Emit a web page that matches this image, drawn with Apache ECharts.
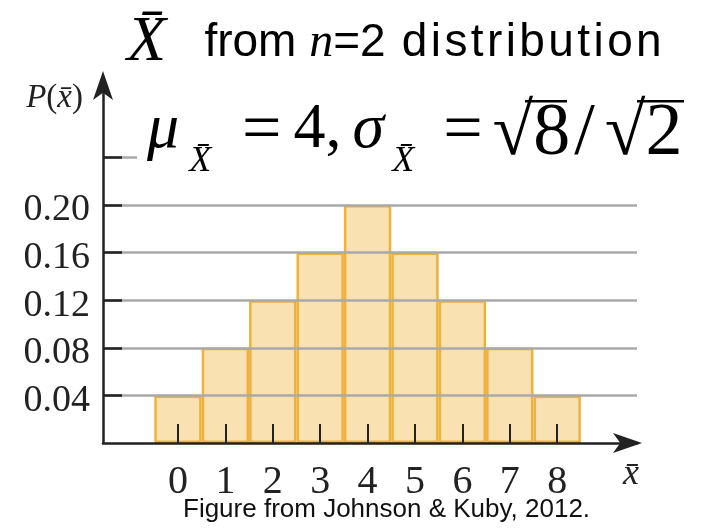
<!DOCTYPE html>
<html>
<head>
<meta charset="utf-8">
<script src="https://cdn.jsdelivr.net/npm/echarts@6/dist/echarts.min.js"></script>
<style>
  html, body { margin: 0; padding: 0; background: #fff; }
  #chart { width: 707px; height: 528px; }
</style>
</head>
<body>
<div id="chart"></div>
<script>
// Sampling distribution of the mean of two draws
const xbarValues = [0, 1, 2, 3, 4, 5, 6, 7, 8];
const probabilities = [0.04, 0.08, 0.12, 0.16, 0.20, 0.16, 0.12, 0.08, 0.04];
const yTickValues = [0.04, 0.08, 0.12, 0.16, 0.20, 0.24];
const yLabelValues = [0.04, 0.08, 0.12, 0.16, 0.20];
const gridValues = [0.04, 0.08, 0.12, 0.16, 0.20, 0.24];

const serif = "'Liberation Serif', 'Times New Roman', serif";
const sans = "'Liberation Sans', Arial, sans-serif";
const MACRON = '\u0304';

// loosely tracked word: one rich token per letter
function tracked(word, style) {
  return word.split('').map(ch => '{' + style + '|' + ch + '}').join('');
}

const chart = echarts.init(document.getElementById('chart'), null, { renderer: 'canvas' });

const barData = xbarValues.map((x, i) => [x, probabilities[i]]);

const headRich = {
  X: { fontFamily: serif, fontStyle: 'italic', fontWeight: 'normal', fontSize: 64, color: '#000', lineHeight: 72 },
  s: { fontFamily: sans, fontWeight: 'normal', fontSize: 46, color: '#000', lineHeight: 60 },
  w: { fontFamily: sans, fontWeight: 'normal', fontSize: 46, color: '#000', lineHeight: 60, padding: [0, 0, 0, 3.4] },
  n: { fontFamily: serif, fontStyle: 'italic', fontWeight: 'normal', fontSize: 48, color: '#000', lineHeight: 60 }
};

const base = { fontFamily: serif, fontWeight: 'normal', color: '#000', verticalAlign: 'top' };
const formulaRich = {
  g: Object.assign({}, base, { fontStyle: 'italic', fontSize: 64, lineHeight: 70 }),
  g2: Object.assign({}, base, { fontStyle: 'italic', fontSize: 64, lineHeight: 70, padding: [0, 0, 0, 11] }),
  sub: Object.assign({}, base, { fontStyle: 'italic', fontSize: 36, lineHeight: 36, padding: [46, 0, 0, 10] }),
  sub2: Object.assign({}, base, { fontStyle: 'italic', fontSize: 36, lineHeight: 36, padding: [46, 0, 0, 8] }),
  eq: Object.assign({}, base, { fontSize: 70, lineHeight: 70, padding: [0, 0, 0, 31] }),
  eq2: Object.assign({}, base, { fontSize: 70, lineHeight: 70, padding: [0, 0, 0, 29] }),
  t: Object.assign({}, base, { fontSize: 64, lineHeight: 70, padding: [0, 0, 0, 12] }),
  rad: Object.assign({}, base, { fontSize: 74, lineHeight: 64, padding: [0, 0, 0, 10] }),
  sl: Object.assign({}, base, { fontSize: 74, lineHeight: 64, padding: [0, 0, 0, 4] })
};

chart.setOption({
  animation: false,
  backgroundColor: '#fff',
  title: [
    {
      left: 122,
      top: 2,
      text: '{X|X' + MACRON + '}{s|   from }{n|n}{s|=2 }' + tracked('distribution', 'w'),
      textStyle: { fontWeight: 'normal', rich: headRich }
    },
    {
      left: 137,
      top: 98,
      backgroundColor: '#fff',
      padding: [0, 10, 0, 10],
      text: '{g|\u03bc}{sub|X' + MACRON + '}{eq|=}{t|4,}{g2|\u03c3}{sub2|X' + MACRON + '}{eq2|=}{rad|\u221a8}{sl|/}{rad|\u221a2}',
      textStyle: { fontWeight: 'normal', rich: formulaRich }
    }
  ],
  grid: { left: 103, right: 70, top: 86, bottom: 85, containLabel: false },
  xAxis: {
    type: 'value',
    z: 10,
    min: -1.582,
    max: 9.684,
    name: 'x' + MACRON,
    nameLocation: 'end',
    nameGap: -14,
    nameTextStyle: {
      fontFamily: serif, fontStyle: 'italic', fontSize: 36, color: '#222',
      verticalAlign: 'top', padding: [14, 0, 0, 0]
    },
    axisLine: {
      show: true,
      symbol: ['none', 'arrow'],
      symbolSize: [15, 29],
      symbolOffset: [0, 5],
      lineStyle: { color: '#222', width: 2.5 }
    },
    axisTick: {
      show: true,
      inside: true,
      length: 19,
      customValues: xbarValues,
      lineStyle: { color: '#222', width: 2 }
    },
    axisLabel: {
      show: true,
      customValues: xbarValues,
      margin: 19,
      fontFamily: serif,
      fontSize: 40,
      color: '#222'
    },
    splitLine: { show: false }
  },
  yAxis: {
    type: 'value',
    z: 10,
    min: 0,
    max: 0.30,
    name: '{i|P}{r|(}{i|x' + MACRON + '}{r|)}',
    nameLocation: 'end',
    nameGap: -12,
    nameTextStyle: {
      align: 'right',
      verticalAlign: 'middle',
      padding: [0, 20, 0, 0],
      rich: {
        i: { fontFamily: serif, fontStyle: 'italic', fontSize: 33, color: '#222' },
        r: { fontFamily: serif, fontSize: 33, color: '#222' }
      }
    },
    axisLine: {
      show: true,
      onZero: false,
      symbol: ['none', 'arrow'],
      symbolSize: [15, 29],
      symbolOffset: [0, 15],
      lineStyle: { color: '#222', width: 2.5 }
    },
    axisTick: {
      show: true,
      inside: true,
      length: 19,
      customValues: yTickValues,
      lineStyle: { color: '#222', width: 2.5 }
    },
    axisLabel: {
      show: true,
      customValues: yLabelValues,
      margin: 13,
      verticalAlign: 'top',
      lineHeight: 11,
      fontFamily: serif,
      fontSize: 38,
      color: '#222',
      formatter: v => v.toFixed(2)
    },
    splitLine: { show: false }
  },
  series: [
    {
      // horizontal reference lines behind the bars
      type: 'line',
      data: [],
      z: 1,
      silent: true,
      markLine: {
        silent: true,
        symbol: ['none', 'none'],
        label: { show: false },
        lineStyle: { color: '#a9a9a9', width: 2.5, type: 'solid' },
        data: gridValues.map(v => ({ yAxis: v }))
      }
    },
    {
      type: 'bar',
      data: barData,
      z: 3,
      barWidth: '100%',
      barCategoryGap: '0%',
      itemStyle: {
        color: '#f9e1b2',
        borderColor: '#eeb23c',
        borderWidth: 2.5
      }
    }
  ],
  graphic: [
    // radical vincula over 8 and 2
    { type: 'rect', z: 100, shape: { x: 525, y: 100, width: 42, height: 2.5 }, style: { fill: '#000' } },
    { type: 'rect', z: 100, shape: { x: 637, y: 100, width: 47, height: 2.5 }, style: { fill: '#000' } },
    {
      type: 'text',
      left: 183,
      top: 497,
      style: {
        text: 'Figure from Johnson & Kuby, 2012.',
        font: "26px 'Liberation Sans', Arial, sans-serif",
        fill: '#111'
      }
    }
  ]
});
</script>
</body>
</html>
